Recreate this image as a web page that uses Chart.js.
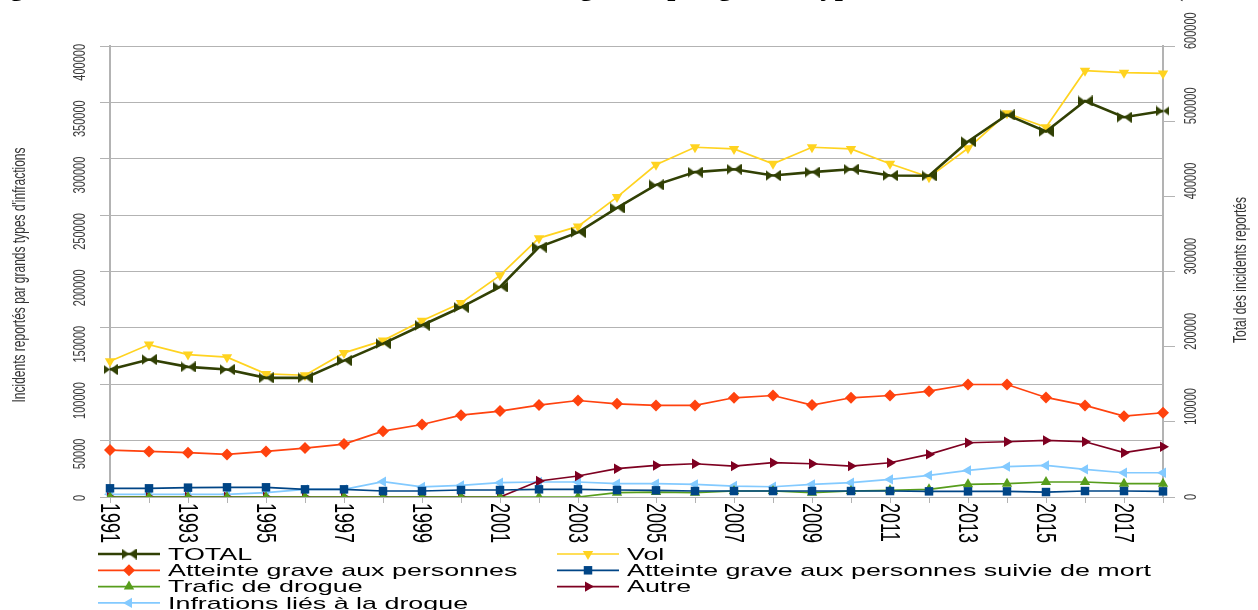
<!DOCTYPE html>
<html>
<head>
<meta charset="utf-8">
<script src="https://cdn.jsdelivr.net/npm/chart.js@4/dist/chart.umd.min.js"></script>
<style>
  html, body { margin: 0; padding: 0; background: #fff; }
  #wrap { position: relative; width: 1258px; height: 610px; }
</style>
</head>
<body>
<div id="wrap"><canvas id="chart"></canvas></div>
<script>
// data
const years = ["1991","1992","1993","1994","1995","1996","1997","1998","1999","2000",
  "2001","2002","2003","2004","2005","2006","2007","2008","2009","2010",
  "2011","2012","2013","2014","2015","2016","2017","2018"];
const total = [169600,182900,173100,169600,158500,158500,181500,204100,228500,252400,
  279400,332500,352000,384500,415300,432200,436100,427700,432200,436100,
  427700,427300,472900,508300,486200,526900,505200,513600];
const vol = [120400,135200,126300,124000,109200,108000,127800,138700,156400,172100,
  196600,229600,240000,266000,294600,310200,308700,295500,310200,308700,
  295500,283700,309300,340300,327900,378100,376300,375700];
const atteinte = [41600,40400,39300,37800,40400,43400,46900,58400,64300,72600,
  76200,81500,85600,82600,81200,81200,88000,90000,81500,88000,
  90000,93900,99800,99800,88300,81200,71700,74700];
const mort = [7700,7700,8300,8600,8600,6800,6800,5300,5300,6200,
  6200,6800,6800,6200,5900,5300,5300,5300,5300,5300,
  5300,5000,5000,5000,4400,5300,5300,5000];
const trafic = [0,0,0,0,0,0,0,0,0,0,
  0,0,0,3800,4400,3800,5300,5300,3800,5300,
  5900,6800,11200,11800,13300,13300,11800,11800];
const autre = [0,0,0,0,0,0,0,0,0,0,
  0,14200,18600,25100,28000,29500,27400,30400,29500,27400,
  30400,37800,48100,49000,50200,49000,39300,44600];
const infra = [2400,2400,2400,2400,3800,6800,6800,13600,8900,10300,
  12700,13300,13300,11800,11800,11200,9700,9100,11200,12700,
  15600,19200,23600,26900,28000,24500,21500,21500];

const titleText = "Figure 3 : Évolution du nombre d'incidents enregistrés par grands types d'infractions commises (1991-2018)";
const leftTitle = "Incidents reportés par grands types d'infractions";
const rightTitle = "Total des incidents reportés";

// the chart picture is stretched sideways, its text too (not the caption)
const S = 1.58;

// bowtie marker for TOTAL
const bowtie = document.createElement("canvas");
bowtie.width = 15; bowtie.height = 11;
(function () {
  const c = bowtie.getContext("2d");
  c.fillStyle = "#314004";
  c.beginPath();
  c.moveTo(0, 0); c.lineTo(7.5, 5.5); c.lineTo(0, 11); c.closePath();
  c.moveTo(15, 0); c.lineTo(7.5, 5.5); c.lineTo(15, 11); c.closePath();
  c.fill();
})();

function ds(label, data, color, style, rot, width, axis) {
  return {
    label: label, data: data, yAxisID: axis || "y",
    borderColor: color, backgroundColor: color,
    borderWidth: width, tension: 0,
    pointStyle: style, pointRotation: rot, pointRadius: 6, pointHoverRadius: 6,
    pointBorderWidth: 0,
  };
}

function stretchText(ctx, txt, x, y, angle, align, baseline, font, color, sx) {
  ctx.save();
  ctx.translate(x, y);
  ctx.scale(sx || S, 1);
  ctx.rotate(angle);
  ctx.font = font;
  ctx.fillStyle = color;
  ctx.textAlign = align;
  ctx.textBaseline = baseline;
  ctx.fillText(txt, 0, 0);
  ctx.restore();
}

function drawMarker(ctx, style, rot, x, y, r, color) {
  if (style instanceof HTMLCanvasElement) {
    ctx.drawImage(style, x - style.width / 2, y - style.height / 2);
    return;
  }
  ctx.save();
  ctx.translate(x, y);
  ctx.rotate((rot || 0) * Math.PI / 180);
  ctx.fillStyle = color;
  ctx.beginPath();
  if (style === "triangle") {
    ctx.moveTo(0, -r);
    ctx.lineTo(r * Math.sin(Math.PI / 3), r / 2);
    ctx.lineTo(-r * Math.sin(Math.PI / 3), r / 2);
  } else if (style === "rect") {
    const s = r * Math.SQRT1_2;
    ctx.rect(-s, -s, 2 * s, 2 * s);
  } else if (style === "rectRot") {
    ctx.moveTo(0, -r); ctx.lineTo(r, 0); ctx.lineTo(0, r); ctx.lineTo(-r, 0);
  }
  ctx.closePath();
  ctx.fill();
  ctx.restore();
}

// texts, tick labels and legend drawn by hand (rotated + stretched)
const textPlugin = {
  id: "texts",
  afterDraw(chart) {
    const ctx = chart.ctx;
    const xs = chart.scales.x, ys = chart.scales.y, ys1 = chart.scales.y1;

    // caption cut by the top edge, only descenders show
    stretchText(ctx, titleText, -16, -5, 0, "left", "alphabetic",
      'bold 29px "Liberation Serif"', "#000", 1);

    ys.ticks.forEach((t) => {
      const py = ys.getPixelForValue(t.value);
      stretchText(ctx, String(t.value), 80, py - 2, -Math.PI / 2, "right", "middle",
        '11px "Liberation Sans"', "#3c3c3c");
    });
    ys1.ticks.forEach((t) => {
      const py = ys1.getPixelForValue(t.value);
      stretchText(ctx, String(t.value), 1191, py + 3, -Math.PI / 2, "left", "middle",
        '11px "Liberation Sans"', "#3c3c3c");
    });
    years.forEach((yr, i) => {
      if (i % 2) return;
      const px = xs.getPixelForValue(i);
      stretchText(ctx, yr, px - 1, 503, Math.PI / 2, "left", "middle",
        '18px "Liberation Sans"', "#000");
    });

    stretchText(ctx, leftTitle, 20, 275, -Math.PI / 2, "center", "middle",
      '12px "Liberation Sans"', "#333");
    stretchText(ctx, rightTitle, 1241, 270, -Math.PI / 2, "center", "middle",
      '12px "Liberation Sans"', "#333");

    // legend, two columns
    const colX = [98, 557];
    chart.data.datasets.forEach((d, i) => {
      const x0 = colX[i % 2];
      const y0 = 554 + Math.floor(i / 2) * 16.3;
      ctx.save();
      ctx.strokeStyle = d.borderColor;
      ctx.lineWidth = d.borderWidth;
      ctx.beginPath();
      ctx.moveTo(x0, y0); ctx.lineTo(x0 + 62, y0);
      ctx.stroke();
      ctx.restore();
      drawMarker(ctx, d.pointStyle, d.pointRotation, x0 + 31, y0, 6, d.borderColor);
      stretchText(ctx, d.label, x0 + 70, y0 + 1, 0, "left", "middle",
        '17px "Liberation Sans"', "#000");
    });
  },
};

const gridGrey = "#b3b3b3";

new Chart(document.getElementById("chart"), {
  type: "line",
  data: {
    labels: years,
    datasets: [
      ds("TOTAL", total, "#314004", bowtie, 0, 2.6, "y1"),
      ds("Vol", vol, "#ffd320", "triangle", 180, 1.7),
      ds("Atteinte grave aux personnes", atteinte, "#ff420e", "rectRot", 0, 1.7),
      ds("Atteinte grave aux personnes suivie de mort", mort, "#004586", "rect", 0, 1.7),
      ds("Trafic de drogue", trafic, "#579d1c", "triangle", 0, 1.7),
      ds("Autre", autre, "#7e0021", "triangle", 90, 1.7),
      ds("Infrations liés à la drogue", infra, "#83caff", "triangle", 270, 1.7),
    ],
  },
  options: {
    responsive: true,
    maintainAspectRatio: false,
    animation: false,
    layout: { padding: { top: 46, left: 0, right: 0, bottom: 0 } },
    plugins: {
      legend: { display: false },
      title: { display: false },
      tooltip: { enabled: false },
    },
    scales: {
      x: {
        offset: false,
        grid: { drawOnChartArea: false, drawTicks: true, tickLength: 6, color: gridGrey },
        border: { color: gridGrey, width: 1 },
        ticks: { display: false, autoSkip: false },
        afterFit: (s) => { s.height = 113; },
      },
      y: {
        position: "left",
        min: 0, max: 400000,
        grid: { color: gridGrey, lineWidth: 1, tickLength: 10 },
        border: { color: gridGrey, width: 2 },
        ticks: { display: false, stepSize: 50000 },
        afterFit: (s) => { s.width = 110; },
      },
      y1: {
        position: "right",
        min: 0, max: 600000,
        grid: { drawOnChartArea: false, color: gridGrey, tickLength: 12 },
        border: { color: gridGrey, width: 2 },
        ticks: { display: false, stepSize: 100000 },
        afterFit: (s) => { s.width = 95; },
      },
    },
  },
  plugins: [textPlugin],
});
</script>
</body>
</html>
